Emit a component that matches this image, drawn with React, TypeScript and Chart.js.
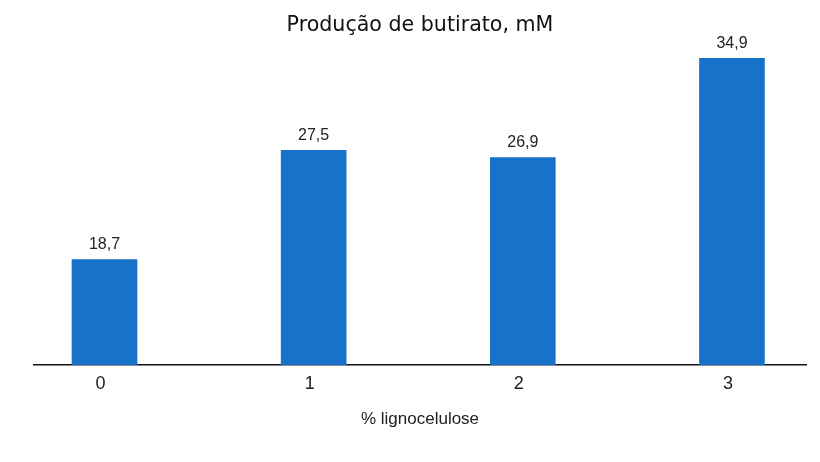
import { useEffect, useRef } from 'react';
import { Chart, registerables } from 'chart.js';

Chart.register(...registerables);

// Datos del gráfico
const categories = ['0', '1', '2', '3'];
const butyrate = [18.7, 27.5, 26.9, 34.9];

const formatValue = (v: number) => v.toFixed(1).replace('.', ',');

// Etiquetas de valor encima de cada barra
const valueLabels = {
  id: 'valueLabels',
  afterDatasetsDraw(chart: Chart) {
    const ctx = chart.ctx;
    const meta = chart.getDatasetMeta(0);
    ctx.save();
    ctx.font = '16px "Liberation Sans", Arial, sans-serif';
    ctx.fillStyle = '#222';
    ctx.textAlign = 'center';
    ctx.textBaseline = 'bottom';
    meta.data.forEach((bar: any, i: number) => {
      ctx.fillText(formatValue(butyrate[i]), bar.x, bar.y - 7);
    });
    ctx.restore();
  }
};

export default function App() {
  const chartRef = useRef<HTMLCanvasElement>(null);
  const chartInstance = useRef<Chart | null>(null);

  useEffect(() => {
    document.body.style.margin = '0';
    if (!chartRef.current) return;

    chartInstance.current = new Chart(chartRef.current, {
      type: 'bar',
      data: {
        datasets: [{
          data: categories.map((c, i) => ({ x: Number(c), y: butyrate[i] })),
          backgroundColor: '#1872C9',
          barThickness: 65
        }]
      },
      options: {
        animation: false,
        responsive: true,
        maintainAspectRatio: false,
        layout: { padding: { left: 34, right: 14, bottom: 32, top: 0 } },
        plugins: {
          legend: { display: false },
          tooltip: { enabled: false },
          title: {
            display: true,
            text: 'Produção de butirato, mM',
            color: '#111',
            font: { family: '"DejaVu Sans"', size: 20.6, weight: 'normal' },
            padding: { top: 13, bottom: 7 }
          }
        },
        scales: {
          x: {
            type: 'linear',
            offset: false,
            min: -0.337,
            max: 3.354,
            grid: { display: false, offset: false },
            border: { display: true, color: '#111', width: 1.5 },
            afterBuildTicks: (scale: any) => {
              scale.ticks = categories.map(c => ({ value: Number(c) }));
            },
            ticks: {
              color: '#222',
              padding: 0,
              labelOffset: -4,
              font: { family: '"Liberation Sans", Arial, sans-serif', size: 18 },
              callback: (v: any) => String(v)
            },
            title: {
              display: true,
              text: '% lignocelulose',
              color: '#222',
              font: { family: '"Liberation Sans", Arial, sans-serif', size: 17 },
              padding: { top: 15, bottom: 0 }
            }
          },
          y: {
            display: false,
            min: 10.2,
            max: 36.0
          }
        }
      },
      plugins: [valueLabels]
    });

    return () => {
      if (chartInstance.current) {
        chartInstance.current.destroy();
      }
    };
  }, []);

  return (
    <div style={{ width: 820, height: 462, background: '#fff' }}>
      <canvas ref={chartRef}></canvas>
    </div>
  );
}
